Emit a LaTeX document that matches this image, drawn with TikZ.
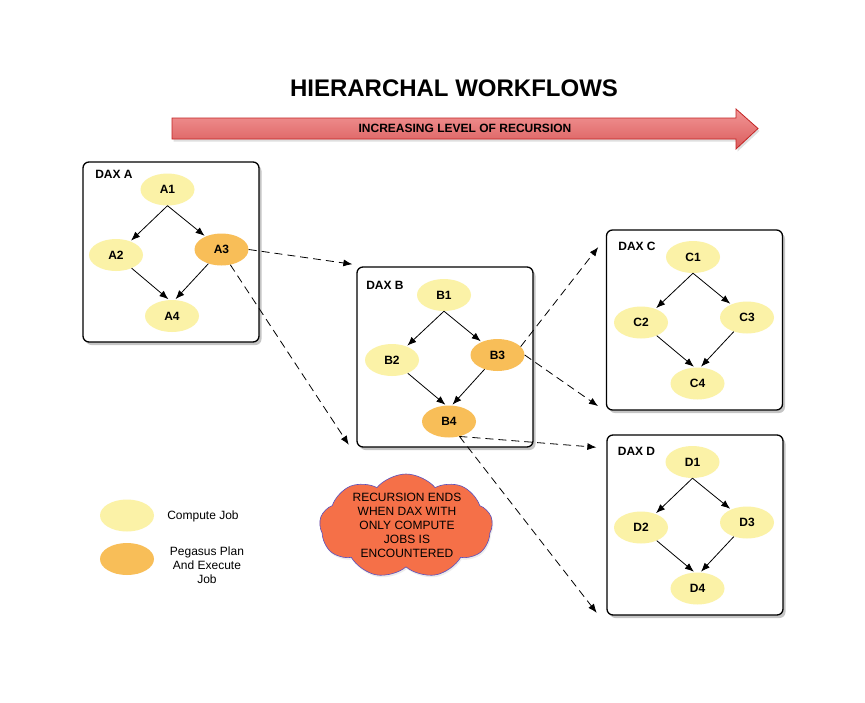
\documentclass[tikz,border=0pt]{standalone}
\usepackage{fontspec}
\setmainfont{Liberation Sans}
\usetikzlibrary{shapes.geometric,shapes.symbols,shadows,arrows.meta}
\definecolor{jobyellow}{RGB}{251,242,167}
\definecolor{joborange}{RGB}{248,190,88}
\definecolor{cloudfill}{RGB}{245,112,72}
\definecolor{cloudline}{RGB}{90,80,190}
\definecolor{arrowtop}{RGB}{242,150,150}
\definecolor{arrowbot}{RGB}{218,92,92}
\definecolor{arrowline}{RGB}{195,35,35}
\begin{document}
\begin{tikzpicture}[x=1pt,y=-1pt,
  daxbox/.style={draw=black,line width=1.3pt,fill=white,rounded corners=6pt,
    minimum width=176pt,minimum height=180pt,inner sep=0pt,
    drop shadow={shadow xshift=2.5pt,shadow yshift=-3pt,opacity=0.45}},
  daxlabel/.style={font=\bfseries\fontsize{12}{14}\selectfont},
  job/.style={ellipse,fill=jobyellow,minimum width=54pt,minimum height=32pt,
    inner sep=0pt,font=\bfseries\fontsize{12}{14}\selectfont},
  pjob/.style={job,fill=joborange},
  edge/.style={-{Latex[length=9pt,width=7pt]},line width=0.8pt,shorten >=1pt},
  dashedge/.style={edge,dash pattern=on 8pt off 5pt},
  plaintext/.style={align=center,font=\fontsize{12}{14}\selectfont},
]
\useasboundingbox (0,0) rectangle (865,702);
\fill[white] (0,0) rectangle (865,702);

% title and arrow
\node[font=\bfseries\fontsize{24}{28}\selectfont] (title) at (454,88) {HIERARCHAL WORKFLOWS};
\draw[draw=arrowline,line width=0.8pt,top color=arrowtop,bottom color=arrowbot,
  drop shadow={shadow xshift=1.5pt,shadow yshift=-2.5pt,opacity=0.25}]
  (172,118) -- (736,118) -- (736,109) -- (758,128.5) -- (736,149) -- (736,139) -- (172,139) -- cycle;
\node[font=\bfseries\fontsize{12}{14}\selectfont] (arrowtext) at (465,128.5) {INCREASING LEVEL OF RECURSION};

% boxes
\node[daxbox] (boxA) at (171,252) {};
\node[daxbox] (boxB) at (445,357) {};
\node[daxbox] (boxC) at (694.5,320) {};
\node[daxbox] (boxD) at (695,525) {};

\node[daxlabel] (labA) at (114,174.5) {DAX A};
\node[daxlabel] (labB) at (385,285) {DAX B};
\node[daxlabel] (labC) at (637,246) {DAX C};
\node[daxlabel] (labD) at (636.5,451) {DAX D};

% DAX A
\node[job]  (A1) at (167.5,189.5) {A1};
\node[job]  (A2) at (116,255) {A2};
\node[pjob] (A3) at (221.5,249.5) {A3};
\node[job]  (A4) at (172,316) {A4};
% DAX B
\node[job]  (B1) at (444,295) {B1};
\node[job]  (B2) at (392,360) {B2};
\node[pjob] (B3) at (497.5,355) {B3};
\node[pjob] (B4) at (449,421.5) {B4};
% DAX C
\node[job] (C1) at (693,257) {C1};
\node[job] (C2) at (641,322.5) {C2};
\node[job] (C3) at (747,317.5) {C3};
\node[job] (C4) at (697.5,383.5) {C4};
% DAX D
\node[job] (D1) at (692.5,462) {D1};
\node[job] (D2) at (641,527.5) {D2};
\node[job] (D3) at (747,522.5) {D3};
\node[job] (D4) at (697.5,588.5) {D4};

\foreach \p in {A,B,C,D}{
  \draw[edge] (\p1.south) -- (\p2);
  \draw[edge] (\p1.south) -- (\p3);
  \draw[edge] (\p2) -- (\p4.100);
  \draw[edge] (\p3) -- (\p4.80);
}

% recursion connectors
\coordinate (tB1) at ([xshift=-3pt,yshift=2pt]boxB.north west);
\coordinate (tB2) at ([xshift=-7pt,yshift=2pt]boxB.south west);
\coordinate (tC1) at ([xshift=-7pt,yshift=-17pt]boxC.north west);
\coordinate (tC2) at ([xshift=-7pt,yshift=4pt]boxC.south west);
\coordinate (tD1) at ([xshift=-9pt,yshift=-13pt]boxD.north west);
\coordinate (tD2) at ([xshift=-9pt,yshift=2pt]boxD.south west);
\draw[dashedge] (A3.east) -- (tB1);
\draw[dashedge] (A3.-60) -- (tB2);
\draw[dashedge] (B3.20) -- (tC1);
\draw[dashedge] (B3.east) -- (tC2);
\draw[dashedge] (B4.-55) -- (tD1);
\draw[dashedge] (B4.-55) -- (tD2);

% cloud
\node[cloud,cloud puffs=9,cloud puff arc=100,aspect=1.7,fill=cloudfill,draw=cloudline,
  line width=0.6pt,minimum width=173pt,minimum height=104pt,inner sep=0pt,
  drop shadow={shadow xshift=1pt,shadow yshift=-2pt,opacity=0.15}] (cloud) at (406,526) {};
\node[plaintext] (cloudtext) at (407,525) {RECURSION ENDS\\WHEN DAX WITH\\ONLY COMPUTE\\JOBS IS\\ENCOUNTERED};

% legend
\node[job]  (legc) at (127,515.5) {};
\node[pjob] (legp) at (127,559) {};
\node[plaintext] (legctext) at (203,516) {Compute Job};
\node[plaintext] (legptext) at (207,565) {Pegasus Plan\\And Execute\\Job};
\end{tikzpicture}
\end{document}
